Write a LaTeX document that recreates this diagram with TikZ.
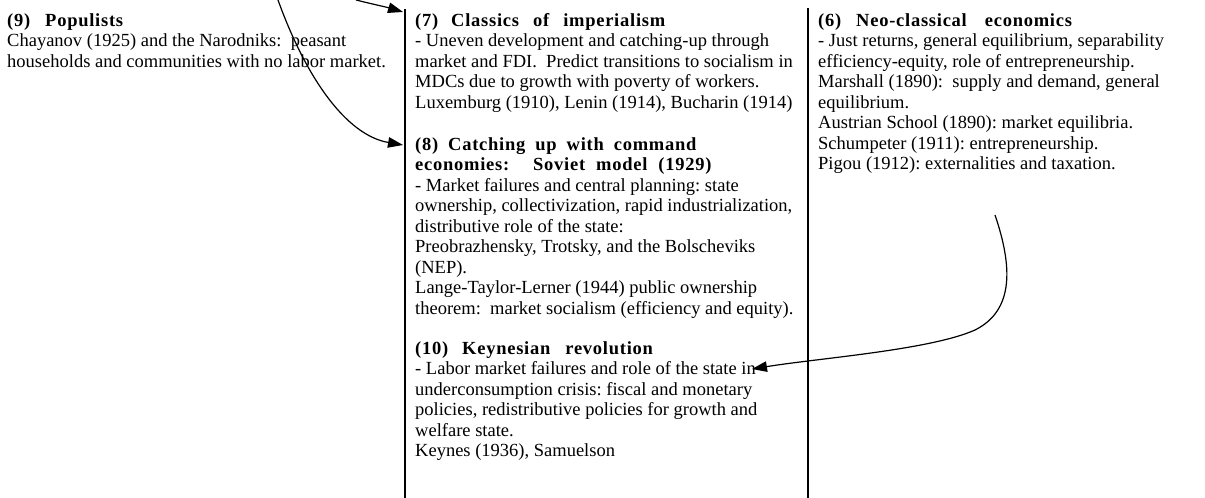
\documentclass[tikz,border=0pt]{standalone}
\usepackage{fontspec}
\setmainfont{Liberation Serif}
\newfontfamily\headfont{Liberation Serif}[LetterSpace=4]
\usetikzlibrary{arrows.meta}
\newcommand{\hd}[1]{{\headfont\bfseries #1}}
\newcommand{\gp}[1]{\hspace*{#1pt}}
\newcommand{\col}[1]{\parbox[t]{400pt}{\raggedright #1}}
\begin{document}
\begin{tikzpicture}[x=1pt,y=-1pt,
  txt/.style={anchor=base west, inner sep=0pt, font=\fontsize{18.5}{20.5}\selectfont\frenchspacing},
  conn/.style={line width=1.2pt, -{Triangle[length=15pt,width=10.5pt]}},
  rule/.style={line width=2pt}]
\useasboundingbox (0,0) rectangle (1205,498);

% column rules
\coordinate (r1t) at (405,9);  \coordinate (r1b) at (405,498);
\coordinate (r2t) at (808,8);  \coordinate (r2b) at (808,498);
\draw[rule] (r1t) -- (r1b);
\draw[rule] (r2t) -- (r2b);

% column 1
\node[txt] (n9) at (7,26) {\col{\hd{(9)\gp{15}Populists}\\
Chayanov (1925) and the Narodniks:\ \ peasant\\
households and communities with no labor market.}};

% column 2
\node[txt] (n7) at (415,26) {\col{\hd{(7)\gp{13}Classics\gp{14}of\gp{14}imperialism}\\
- Uneven development and catching-up through\\
market and FDI.\ \ Predict transitions to socialism in\\
MDCs due to growth with poverty of workers.\\
Luxemburg (1910), Lenin (1914), Bucharin (1914)}};

\node[txt] (n8) at (415,150) {\col{\hd{(8)\gp{10}Catching\gp{10}up\gp{10}with\gp{10}command}\\
\hd{economies:\gp{24}Soviet\gp{11}model\gp{11}(1929)}\\
- Market failures and central planning: state\\
ownership, collectivization, rapid industrialization,\\
distributive role of the state:\\
Preobrazhensky, Trotsky, and the Bolscheviks\\
(NEP).\\
Lange-Taylor-Lerner (1944) public ownership\\
theorem:\ \ market socialism (efficiency and equity).}};

\node[txt] (n10) at (415,354) {\col{\hd{(10)\gp{14}Keynesian\gp{15}revolution}\\
- Labor market failures and role of the state in\\
underconsumption crisis: fiscal and monetary\\
policies, redistributive policies for growth and\\
welfare state.\\
Keynes (1936), Samuelson}};

% column 3
\node[txt] (n6) at (818,26) {\col{\hd{(6)\gp{15}Neo-classical\gp{18}economics}\\
- Just returns, general equilibrium, separability\\
efficiency-equity, role of entrepreneurship.\\
Marshall (1890):\ \ supply and demand, general\\
equilibrium.\\
Austrian School (1890): market equilibria.\\
Schumpeter (1911): entrepreneurship.\\
Pigou (1912): externalities and taxation.}};

% connectors
\coordinate (s1) at (356,0);
\coordinate (t1) at (403,12);
\coordinate (s2) at (278,0);
\coordinate (t2) at (403,145);
\coordinate (s3) at (995,215);
\coordinate (m3) at (975,330);
\coordinate (t3) at (752,369);
\draw[conn] (s1) .. controls (372,4) and (386,7) .. (t1);
\draw[conn] (s2) .. controls (305,75) and (345,135) .. (t2);
\draw[conn] (s3) .. controls (1012,265) and (1015,310) .. (m3)
  .. controls (930,350) and (820,358) .. (t3);
\end{tikzpicture}
\end{document}
